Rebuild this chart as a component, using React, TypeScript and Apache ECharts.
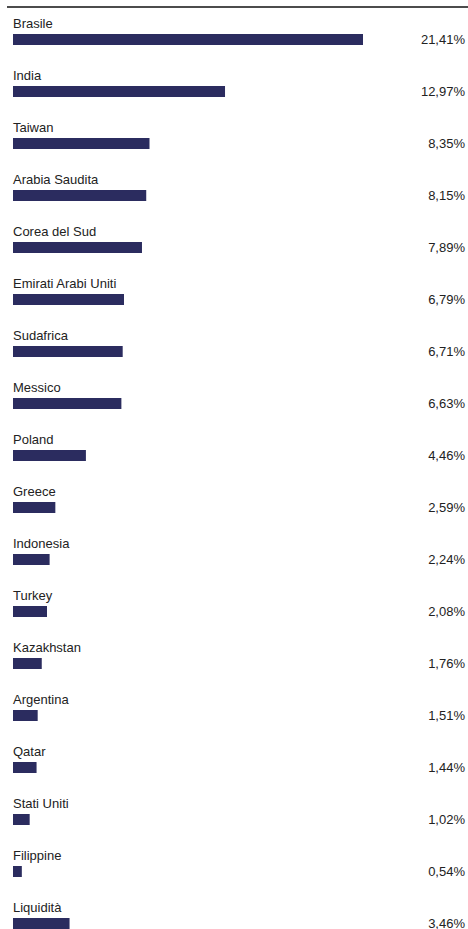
import React, { useEffect, useRef } from "react";
import * as echarts from "echarts";

const categories = [
  "Brasile", "India", "Taiwan", "Arabia Saudita", "Corea del Sud", "Emirati Arabi Uniti",
  "Sudafrica", "Messico", "Poland", "Greece", "Indonesia", "Turkey", "Kazakhstan",
  "Argentina", "Qatar", "Stati Uniti", "Filippine", "Liquidità",
];
const values = [
  21.41, 12.97, 8.35, 8.15, 7.89, 6.79, 6.71, 6.63, 4.46, 2.59, 2.24, 2.08, 1.76,
  1.51, 1.44, 1.02, 0.54, 3.46,
];
const valueLabels = values.map((v) => v.toFixed(2).replace(".", ",") + "%");

const FONT = "'Liberation Sans', Arial, sans-serif";

export default function App() {
  const ref = useRef<HTMLDivElement>(null);
  useEffect(() => {
    if (!ref.current) return;
    const chart = echarts.init(ref.current, undefined, { renderer: "svg" });
    chart.setOption({
      animation: false,
      grid: { left: 13, top: 13.5, width: 353, height: 936, containLabel: false },
      graphic: [
        {
          type: "line",
          shape: { x1: 7, y1: 7, x2: 468, y2: 7 },
          style: { stroke: "#111", lineWidth: 1.5 },
        },
      ],
      xAxis: { type: "value", min: 0, max: 21.41, show: false },
      yAxis: [
        {
          type: "category",
          data: categories,
          inverse: true,
          axisLine: { show: false },
          axisTick: { show: false },
          axisLabel: { show: false },
          splitLine: { show: false },
        },
        {
          type: "category",
          data: valueLabels,
          inverse: true,
          position: "right",
          axisLine: { show: false },
          axisTick: { show: false },
          splitLine: { show: false },
          axisLabel: {
            align: "right",
            margin: 102,
            color: "#222",
            fontSize: 13,
            fontFamily: FONT,
          },
        },
      ],
      series: [
        {
          type: "bar",
          data: values,
          barWidth: 11,
          yAxisIndex: 0,
          itemStyle: { color: "#2b2c5f" },
          label: {
            show: true,
            position: [0, -11],
            align: "left",
            verticalAlign: "middle",
            formatter: (p: any) => categories[p.dataIndex],
            color: "#222",
            fontSize: 13,
            fontFamily: FONT,
          },
        },
      ],
    });
    return () => chart.dispose();
  }, []);
  return (
    <div
      style={{ position: "absolute", left: 0, top: 0, width: 468, height: 929, overflow: "hidden" }}
    >
      <div ref={ref} style={{ width: 468, height: 960 }} />
    </div>
  );
}
